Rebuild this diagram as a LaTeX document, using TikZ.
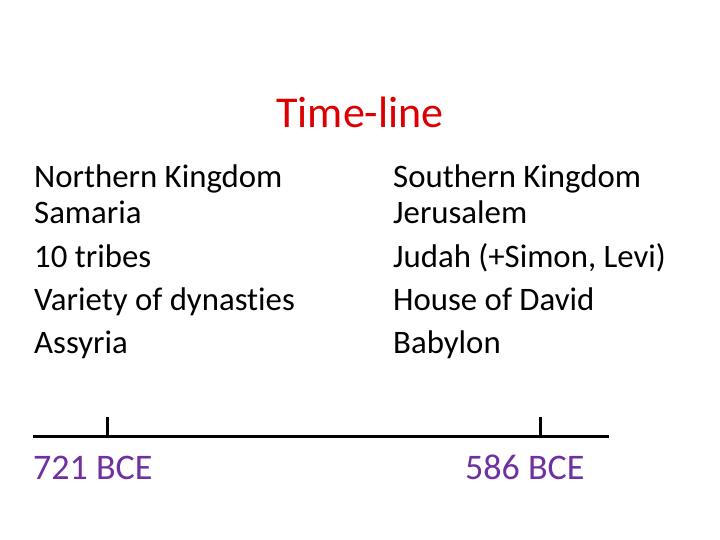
\documentclass[tikz,border=0pt]{standalone}
\usepackage{fontspec}
\setmainfont[RawFeature=-liga]{Carlito}
\definecolor{titlered}{RGB}{222,0,0}
\definecolor{datepurple}{RGB}{112,48,160}
\begin{document}
\begin{tikzpicture}[x=1pt,y=-1pt,
  body/.style={anchor=base west,inner sep=0pt,font=\fontsize{32.8}{38}\selectfont},
  datelbl/.style={anchor=base west,inner sep=0pt,font=\fontsize{36}{42}\selectfont,text=datepurple},
  axis/.style={line width=3pt},
  tick/.style={line width=3pt}]
\useasboundingbox[fill=white] (0,0) rectangle (720,540);
\node[anchor=base,inner sep=0pt,font=\fontsize{44}{52}\selectfont,text=titlered] (title) at (360,128) {Time-line};
\node[body] (n1) at (34,188) {Northern Kingdom};
\node[body] (n2) at (34,223) {Samaria};
\node[body] (n3) at (34,267) {10 tribes};
\node[body] (n4) at (34,310) {Variety of dynasties};
\node[body] (n5) at (34,353) {Assyria};
\node[body] (s1) at (393,188) {Southern Kingdom};
\node[body] (s2) at (393,223) {Jerusalem};
\node[body] (s3) at (393,267) {Judah (+Simon, Levi)};
\node[body] (s4) at (393,310) {House of David};
\node[body] (s5) at (393,353) {Babylon};
\coordinate (a0) at (33,436);
\coordinate (a1) at (609,436);
\coordinate (t1b) at (107,434.5);
\coordinate (t1t) at (107,417);
\coordinate (t2b) at (540,434.5);
\coordinate (t2t) at (540,417);
\draw[axis] (a0) -- (a1);
\draw[tick] (t1b) -- (t1t);
\draw[tick] (t2b) -- (t2t);
\node[datelbl] (d1) at (33,479) {721 BCE};
\node[datelbl] (d2) at (465,479) {586 BCE};
\end{tikzpicture}
\end{document}
